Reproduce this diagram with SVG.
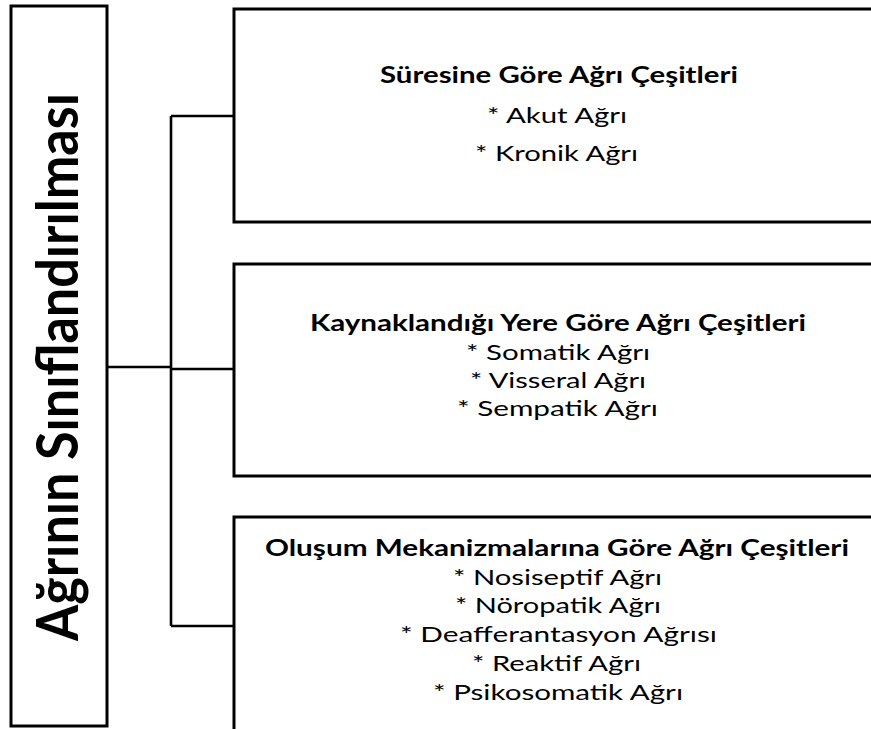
<svg xmlns="http://www.w3.org/2000/svg" width="871" height="729" viewBox="0 0 871 729">
<style>
.box{fill:#ffffff;stroke:#000000;stroke-width:3}
.conn{fill:none;stroke:#000000;stroke-width:2.6}
.t{font-family:Lato,"Open Sans","Liberation Sans",sans-serif;font-size:22px;fill:#000000}
.b{font-weight:bold}
.root{font-family:Lato,"Open Sans","Liberation Sans",sans-serif;font-size:57px;font-weight:bold;fill:#000000}
</style>
<rect width="871" height="729" fill="#ffffff"/>
<g id="connectors">
<path class="conn" d="M107,367 H171"/>
<path class="conn" d="M171,116 V626"/>
<path class="conn" d="M171,116 H234"/>
<path class="conn" d="M171,369 H234"/>
<path class="conn" d="M171,626 H234"/>
</g>
<g id="root">
<rect class="box" x="11" y="6" width="96" height="720"/>
<text class="root" transform="translate(78,641) rotate(-90)" x="0" y="0" textLength="548" lengthAdjust="spacingAndGlyphs">Ağrının Sınıflandırılması</text>
</g>
<g id="node-sure">
<rect class="box" x="234" y="9" width="700" height="213"/>
<text class="t b" x="380" y="83" textLength="358" lengthAdjust="spacingAndGlyphs">Süresine Göre Ağrı Çeşitleri</text>
<text class="t" x="487" y="123" textLength="140" lengthAdjust="spacingAndGlyphs">* Akut Ağrı</text>
<text class="t" x="475" y="161" textLength="163" lengthAdjust="spacingAndGlyphs">* Kronik Ağrı</text>
</g>
<g id="node-yer">
<rect class="box" x="234" y="264" width="700" height="212"/>
<text class="t b" x="310" y="331" textLength="496" lengthAdjust="spacingAndGlyphs">Kaynaklandığı Yere Göre Ağrı Çeşitleri</text>
<text class="t" x="466" y="360" textLength="184" lengthAdjust="spacingAndGlyphs">* Somatik Ağrı</text>
<text class="t" x="470" y="388" textLength="176" lengthAdjust="spacingAndGlyphs">* Visseral Ağrı</text>
<text class="t" x="457" y="416" textLength="201" lengthAdjust="spacingAndGlyphs">* Sempatik Ağrı</text>
</g>
<g id="node-mekanizma">
<rect class="box" x="234" y="517" width="700" height="300"/>
<text class="t b" x="265" y="556" textLength="584" lengthAdjust="spacingAndGlyphs">Oluşum Mekanizmalarına Göre Ağrı Çeşitleri</text>
<text class="t" x="453" y="585" textLength="209" lengthAdjust="spacingAndGlyphs">* Nosiseptif Ağrı</text>
<text class="t" x="455" y="613" textLength="206" lengthAdjust="spacingAndGlyphs">* Nöropatik Ağrı</text>
<text class="t" x="400" y="642" textLength="317" lengthAdjust="spacingAndGlyphs">* Deafferantasyon Ağrısı</text>
<text class="t" x="472" y="671" textLength="169" lengthAdjust="spacingAndGlyphs">* Reaktif Ağrı</text>
<text class="t" x="433" y="700" textLength="250" lengthAdjust="spacingAndGlyphs">* Psikosomatik Ağrı</text>
</g>
</svg>
